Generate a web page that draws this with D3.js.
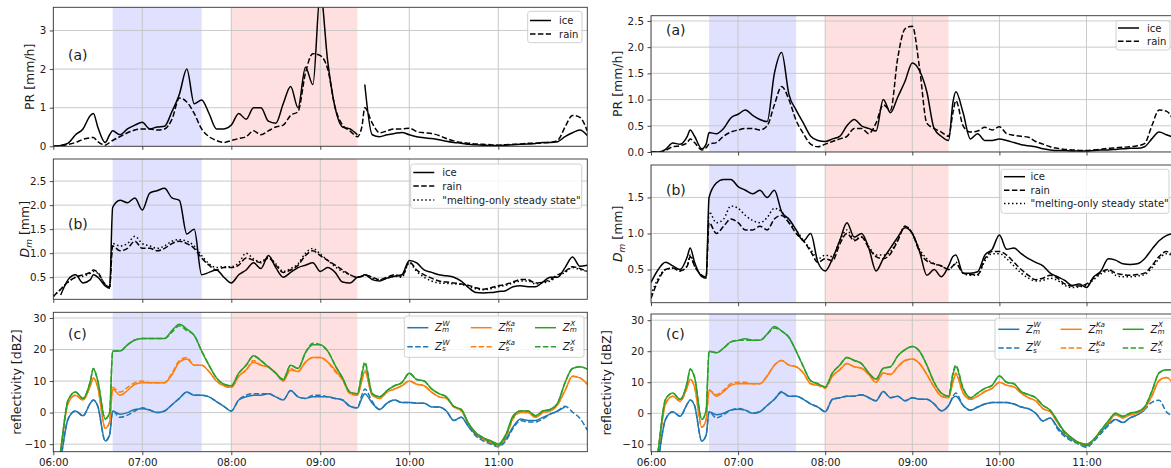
<!DOCTYPE html>
<html><head><meta charset="utf-8">
<script src="https://cdn.jsdelivr.net/npm/d3@7"></script>
<style>body{margin:0;background:#fff}svg{display:block}text{font-family:"DejaVu Sans",sans-serif;fill:#1a1a1a}</style>
</head><body><svg id="c" width="1171" height="468"></svg>
<script>
const times = ["06:00","06:05","06:10","06:15","06:20","06:25","06:27","06:30","06:35","06:38",
"06:40","06:45","06:50","06:55","07:00","07:05","07:10","07:15","07:20","07:25",
"07:30","07:35","07:40","07:45","07:50","07:55","08:00","08:05","08:10","08:15",
"08:20","08:25","08:30","08:35","08:40","08:45","08:50","08:55","09:00","09:05",
"09:10","09:15","09:20","09:25","09:28","09:30","09:35","09:40","09:45","09:50",
"09:55","10:00","10:05","10:10","10:15","10:20","10:25","10:30","10:35","10:40",
"10:45","10:50","10:55","11:00","11:05","11:10","11:15","11:20","11:25","11:30",
"11:35","11:40","11:45","11:50","11:55","12:00"];
const hourTicks = ["06:00","07:00","08:00","09:00","10:00","11:00"];
const blueSpan = ["06:40","07:40"];
const redSpan = ["08:00","09:25"];

// ---------- left figure ----------
const leftPrIce = [0,0.02,0.08,0.3,0.45,0.8,0.85,0.5,0.1,0.3,
0.4,0.3,0.45,0.55,0.62,0.45,0.5,0.52,0.9,1.35,
2.0,1.1,1.2,0.85,0.45,0.45,0.55,0.85,0.7,1.0,
1.0,0.65,0.6,1.1,1.55,1.0,2.05,1.6,4.0,2.2,
1.0,0.5,0.45,0.3,null,1.6,0.3,0.25,0.3,0.33,
0.36,0.3,0.25,0.22,0.2,0.17,0.13,0.1,0.08,0.05,
0.04,0.03,0.02,0.02,0.03,0.04,0.05,0.06,0.07,0.1,
0.1,0.12,0.25,0.35,0.42,0.28];
const leftPrRain = [0,0.02,0.05,0.1,0.18,0.22,0.23,0.12,0.03,0.1,
0.15,0.25,0.35,0.42,0.45,0.45,0.42,0.45,0.7,1.25,
1.15,0.85,0.45,0.25,0.15,0.1,0.15,0.2,0.25,0.4,
0.3,0.4,0.5,0.55,0.8,0.9,1.9,2.4,2.35,2.0,
1.0,0.55,0.4,0.25,0.5,1.0,0.6,0.35,0.4,0.45,
0.45,0.47,0.38,0.35,0.33,0.28,0.2,0.14,0.1,0.08,
0.06,0.05,0.04,0.03,0.04,0.05,0.06,0.08,0.08,0.09,
0.1,0.15,0.5,0.8,0.75,0.4];
const leftDmIce = [null,0.13,0.45,0.55,0.38,0.45,0.55,0.5,0.32,0.27,
1.95,2.1,2.05,2.15,1.9,2.25,2.3,2.35,2.15,2.1,
1.4,1.5,0.55,0.6,0.65,0.5,0.38,0.55,0.65,0.8,
0.68,0.95,0.7,0.5,0.6,0.7,0.75,0.8,0.62,0.7,
0.6,0.4,0.38,0.5,0.52,0.55,0.45,0.42,0.48,0.52,
0.55,0.85,0.8,0.65,0.6,0.55,0.53,0.5,0.42,0.28,
0.18,0.17,0.18,0.2,0.22,0.3,0.32,0.3,0.3,0.4,
0.5,0.5,0.7,0.92,0.73,0.75];
const leftDmRain = [0.1,0.25,0.4,0.5,0.55,0.6,0.65,0.6,0.35,0.3,
1.15,1.05,1.1,1.25,1.1,1.1,1.05,1.1,1.2,1.25,
1.2,1.1,0.9,0.75,0.65,0.7,0.7,0.75,0.9,0.85,
0.8,0.9,0.75,0.6,0.65,0.75,0.95,1.05,0.95,0.85,
0.75,0.65,0.55,0.5,0.52,0.55,0.5,0.45,0.5,0.55,
0.52,0.82,0.65,0.55,0.48,0.42,0.4,0.38,0.36,0.33,
0.28,0.25,0.28,0.32,0.35,0.4,0.45,0.45,0.38,0.4,
0.45,0.55,0.62,0.72,0.68,0.62];
const leftDmMelt = [0.1,0.25,0.4,0.5,0.52,0.58,0.62,0.58,0.35,0.3,
1.2,1.15,1.2,1.35,1.2,1.15,1.1,1.15,1.25,1.28,
1.25,1.15,0.95,0.78,0.7,0.72,0.72,0.8,1.0,0.88,
0.82,0.92,0.78,0.62,0.68,0.78,1.0,1.1,0.98,0.85,
0.72,0.62,0.55,0.5,0.52,0.55,0.48,0.44,0.48,0.52,
0.5,0.8,0.62,0.5,0.42,0.38,0.37,0.36,0.35,0.3,
0.26,0.24,0.26,0.3,0.33,0.38,0.42,0.42,0.36,0.38,
0.42,0.52,0.6,0.7,0.66,0.62];
const leftWm = [-30,-15,-2,0.5,-1,3,4,2,-9,-7,
0.5,-0.5,0,1,1.2,0.8,0,0.5,2.5,4.5,
6.5,5.5,5.5,5,3.5,2,0.5,4,5,5.5,
5.5,6,5,4,7,5,4.5,5,5,5,
4.5,4,2,1.5,4.5,6,3,1,3,4,
3.2,3.2,3,3,1.8,1.8,0.5,-2.5,-1.5,-4.5,
-7,-8.5,-9.5,-10.3,-8.5,-4.5,-2,-2.5,-2.5,-1.5,
-0.5,0.5,1.8,null,null,null];
const leftWs = [-30,-15,-2,0.5,-1,3,4,2,-9,-7,
0.5,-1.5,-0.8,0.5,1.5,0.8,0,0.5,2.5,4.5,
6.5,5.5,5.5,5,3.5,2,0.5,4,5.5,6,
6,6,5,4,7,5,4.5,5.5,5.5,5,
4.5,4,2,1.5,5.5,7.5,3.5,1,3,4,
3.2,3.2,3,3,1.8,1.8,0.5,-2.5,-1.5,-4.5,
-7.5,-9,-10,-10.8,-9,-5,-2.5,-3,-3,-2,
-0.5,0.5,2,0.2,-1.8,-5.6];
const leftKam = [-30,-12,3,5.5,4,8.5,11,8,-5,-3,
7.5,5.5,7,9,9.5,9.5,9.5,9.5,12,16,
17,15,15,13,10,8.5,8,11.5,13.5,16,
15,14.5,12.5,10,13.5,13,16,17.5,17.5,16,
13.5,10.5,6,5.5,10,13,5.5,4.5,6.5,7.5,
8.5,10,9,8.5,6.5,5,4.5,1.8,0.8,-3.5,
-6.5,-8,-9,-10,-7.5,-1.5,0,0,-1.5,0,
0.5,2.5,7,11.5,11,9];
const leftKas = [-30,-12,3,5.5,4,8.5,11,8,-5,-3,
8,6.5,8,9.5,10,9.5,9.5,9.5,12.5,16.5,
17.5,15,15,13,10,8.5,8,11.5,13.5,16.5,
15,14.5,12.5,10,14,13,16,17.5,17.5,16,
13,10.5,6,5.5,10.5,13.5,5.5,4.5,6.5,7.5,
8.5,10,9,8.5,6.5,5,4.5,1.8,0.5,-3.5,
-6.5,-8.5,-9.5,-10.5,-8,-2,0,0,-1.5,0,
0.5,2.5,7,11.5,11,9];
const leftXm = [-30,-12,4,6.5,4.5,10,14,10,-2,0,
19.5,19.5,21.5,23,23.5,23.5,23.5,23.5,26,28,
26.5,24.5,19.5,15,11,9,8.5,12.5,15,18,
16.5,14.5,12.5,10.5,15,14,19,21.5,21.5,19.5,
15,11,6.5,6,12,15.5,6,5,7,8.5,
9.5,12.5,10.5,10,7.5,6,5,2,1,-3.5,
-6.5,-8,-9,-10,-7,-1,0.5,0.5,-1,0.5,
1,3,9.5,14,14.5,13.8];
const leftXs = [-30,-12,4,6.5,4.5,10,14,10,-2,0,
19.5,19.5,21.5,23,23.5,23.5,23.5,23.5,25.5,27.5,
26,24.5,19.5,15,11,9,8.5,12.5,15,18,
16.5,14.5,12.5,10.5,15,14,19,22,21.5,19.5,
15,11,6.5,6,12.5,16,6,5,7,8.5,
9.5,12.5,10.5,10,7.5,6,5,2,1,-3.5,
-6.5,-8,-9.5,-10.5,-7.5,-1.5,0.5,0.5,-1,0.5,
1,3,9.5,14,14.5,13.8];

// ---------- right figure ----------
const rightPrIce = [0,0,0.05,0.17,0.15,0.3,0.42,0.3,0.06,0.15,
0.37,0.35,0.45,0.65,0.72,0.8,0.7,0.62,0.58,1.5,
1.9,1.1,0.8,0.55,0.3,0.22,0.2,0.25,0.3,0.5,
0.62,0.5,0.45,0.4,1.0,0.75,1.05,1.35,1.7,1.55,
1.15,0.45,0.3,0.22,0.95,1.15,0.75,0.25,0.35,0.22,
0.22,0.25,0.22,0.18,0.14,0.12,0.1,0.06,0.04,0.03,
0.03,0.02,0.02,0.02,0.03,0.04,0.04,0.05,0.06,0.07,
0.07,0.1,0.25,0.38,0.33,0.28];
const rightPrRain = [0,0,0.03,0.1,0.12,0.18,0.25,0.18,0.04,0.08,
0.15,0.18,0.3,0.38,0.42,0.45,0.45,0.42,0.5,0.9,
1.25,1.0,0.6,0.35,0.15,0.1,0.15,0.2,0.25,0.3,
0.45,0.45,0.35,0.55,0.9,0.8,1.8,2.35,2.4,1.6,
0.55,0.45,0.38,0.3,0.75,0.98,0.5,0.38,0.4,0.47,
0.42,0.48,0.35,0.32,0.3,0.28,0.2,0.15,0.1,0.07,
0.05,0.04,0.03,0.03,0.04,0.05,0.07,0.08,0.09,0.1,
0.12,0.16,0.5,0.8,0.78,0.6];
const rightDmIce = [0.32,0.5,0.6,0.55,0.5,0.68,0.8,0.6,0.4,0.38,
1.5,1.7,1.75,1.75,1.65,1.6,1.55,1.6,1.5,1.6,
1.3,1.2,1.05,0.9,1.0,0.6,0.48,0.65,0.9,1.15,
0.95,1.0,0.8,0.48,0.65,0.8,0.95,1.08,1.0,0.75,
0.42,0.5,0.4,0.55,0.68,0.7,0.45,0.45,0.47,0.7,
0.78,0.98,0.78,0.8,0.72,0.65,0.6,0.55,0.45,0.4,
0.35,0.28,0.3,0.25,0.4,0.48,0.65,0.63,0.58,0.57,
0.58,0.65,0.78,0.9,0.97,1.0];
const rightDmRain = [0.1,0.35,0.5,0.52,0.48,0.55,0.68,0.55,0.42,0.4,
1.15,1.0,1.1,1.2,1.15,1.05,1.05,1.1,1.05,1.2,
1.25,1.15,1.0,0.9,0.75,0.6,0.65,0.62,0.85,1.0,
0.9,0.95,0.8,0.68,0.65,0.72,0.9,1.1,1.0,0.75,
0.62,0.58,0.55,0.5,0.55,0.58,0.45,0.43,0.43,0.65,
0.75,0.75,0.7,0.6,0.5,0.42,0.36,0.38,0.42,0.38,
0.3,0.27,0.27,0.3,0.38,0.46,0.5,0.45,0.43,0.42,
0.43,0.45,0.55,0.68,0.75,0.7];
const rightDmMelt = [0.15,0.38,0.5,0.52,0.48,0.55,0.7,0.55,0.42,0.4,
1.3,1.15,1.2,1.38,1.35,1.25,1.18,1.15,1.22,1.35,
1.3,1.15,1.05,0.9,0.78,0.65,0.7,0.68,0.9,1.05,
0.92,0.95,0.82,0.7,0.7,0.75,0.92,1.1,1.0,0.78,
0.65,0.58,0.55,0.5,0.55,0.6,0.45,0.42,0.42,0.62,
0.72,0.72,0.65,0.55,0.45,0.38,0.34,0.35,0.38,0.35,
0.28,0.25,0.26,0.28,0.36,0.44,0.48,0.42,0.4,0.4,
0.41,0.43,0.52,0.65,0.72,0.68];
const rightWm = [-30,-15,-2,0.5,-1,3,4.3,2.5,-9,-7,
0.5,-0.5,0,1,1.3,1,0,0.5,2.5,4.5,
6.8,5.5,5.5,4.5,3,2,0.5,4.5,5,5.5,
5.5,6,5,4,7,5,5.5,4,5,4.5,
4.5,3,0.8,2.5,5,5.5,2.5,1,2,3,
3.5,3.5,3.5,3,2,1.5,0,-2.5,-1.5,-4.5,
-7,-8.5,-9.5,-10.5,-8.5,-6,-3.5,-2,-3,-1.5,
-0.5,1,null,null,null,null];
const rightWs = [-30,-15,-2,0.5,-1,3,4.3,2.5,-9,-7,
0.5,-1.5,-0.5,1,1.5,1,0,0.5,2.5,4.5,
7,5.5,5.5,4.5,3,2,0.5,4.5,5,5.5,
5.5,6,5,4,7,5,5.5,4,5,4.5,
4.5,3,0.8,2.5,5.5,6.5,2.5,1,2,3,
3.5,3.5,3.5,3,2,1.5,0,-2.5,-1.5,-5,
-7.5,-9,-10,-11,-9,-6.5,-4,-2,-3,-1.5,
-0.5,1.2,3.5,4.2,0.5,-1];
const rightKam = [-30,-12,3,5.5,3.8,8.5,11,8.5,-4.5,-2,
7.5,5.5,7,9,9.5,9.5,9.5,9.5,12,15.5,
17,15.5,15,13,9.5,9,8.5,12,14,16,
15,14.5,12.5,10,13,12.5,15,17,17.5,16,
12.5,8.5,5.5,5,10,12.5,6.5,4.5,5.5,7,
8,10,9,8.5,6.5,5,4,1.5,0.5,-3,
-6,-8,-9.5,-10,-8.5,-5.5,-3,-0.5,-1.5,-0.5,
0,1.5,5.5,10.5,11.5,9.5];
const rightKas = [-30,-12,3,5.5,3.8,8.5,11,8.5,-4.5,-2,
7.5,6,7.5,9.5,10,10,9.5,9.5,12,15.5,
17,15.5,15,13,9.5,9,8,12,14,16,
15,14.5,12.5,10,13,12.5,15,17,17.5,16,
12.5,8.5,5.5,5,10.5,13,6.5,4.5,5.5,7,
8,10,9,8.5,6.5,5,4,1.5,0.5,-3,
-6.5,-8.5,-10,-10.5,-8.5,-5.5,-3,-0.5,-1.5,-0.5,
0,1.5,5.5,10.5,11.5,9.5];
const rightXm = [-30,-12,4.5,6.5,4.5,10,14.3,11.6,-2,1,
20,19.5,21,23,23.5,24,23.5,23.5,25.5,28,
26.5,24.5,20,15,10.5,9.5,8.5,13,15.5,18,
17,16,13,11,14.5,15,18.5,20.5,21.5,20,
15.5,10,6.5,5.5,12.5,15,8,5,6.5,8,
9,12,10,9.5,7,6,5,2.5,1,-2.5,
-6,-8,-9.5,-10,-8.5,-5.5,-2.5,0,-1,0,
0.5,2,7,13,14,14];
const rightXs = [-30,-12,4.5,6.5,4.5,10,14.3,11.6,-2,1,
20,19.5,21,23,23.5,23.5,23.5,23.5,25.5,27.5,
26.5,24.5,20,15,10.5,9.5,8.5,13,15.5,18,
17,16,13,11,14.5,15,18.5,20.5,21.5,20,
15.5,10,6.5,5.5,13,15.5,8,5,6.5,8,
9,12,10,9.5,7,6,5,2.5,1,-2.5,
-6.5,-8.5,-10,-10.5,-8.5,-5.5,-2.5,0,-1,0,
0.5,2,7,13,14,14];

// ---------- drawing ----------
const parse = d3.timeParse("%H:%M");
const T = times.map(parse);
const svg = d3.select("#c");
const defs = svg.append("defs");
let clipN = 0;
const BLACK = "#000", C_W = "#1f77b4", C_KA = "#ff7f0e", C_X = "#2ca02c";
const DASH = "5.5,2.4", DOT = "1.5,2.5";
const LEG_FS = "10.05px";

function drawPanel(cfg) {
  const {x0, x1, y0, y1} = cfg.box;
  const x = d3.scaleTime().domain([parse("06:00"), parse("12:00")]).range([x0, x1]);
  const y = d3.scaleLinear().domain(cfg.yDomain).range([y1, y0]);
  const g = svg.append("g");
  const id = "clip" + (clipN++);
  defs.append("clipPath").attr("id", id).append("rect")
    .attr("x", x0).attr("y", y0).attr("width", x1 - x0).attr("height", y1 - y0);
  const inner = g.append("g").attr("clip-path", `url(#${id})`);
  [[blueSpan, "#e0e0ff"], [redSpan, "#ffe0e0"]].forEach(([s, c]) => {
    inner.append("rect").attr("x", x(parse(s[0]))).attr("width", x(parse(s[1])) - x(parse(s[0])))
      .attr("y", y0).attr("height", y1 - y0).attr("fill", c);
  });
  const xt = hourTicks.map(parse);
  inner.selectAll(null).data(xt).join("line")
    .attr("x1", d => x(d)).attr("x2", d => x(d)).attr("y1", y0).attr("y2", y1)
    .attr("stroke", "#c4c4c4").attr("stroke-width", 0.9);
  inner.selectAll(null).data(cfg.yTicks).join("line")
    .attr("x1", x0).attr("x2", x1).attr("y1", d => y(d)).attr("y2", d => y(d))
    .attr("stroke", "#c4c4c4").attr("stroke-width", 0.9);
  const line = d3.line().defined(d => d[1] != null).curve(d3.curveMonotoneX)
    .x(d => x(d[0])).y(d => y(d[1]));
  cfg.series.forEach(s => {
    inner.append("path").datum(T.map((t, i) => [t, s.values[i]]))
      .attr("d", line).attr("fill", "none").attr("stroke", s.color)
      .attr("stroke-width", 1.5).attr("stroke-linejoin", "round")
      .attr("stroke-dasharray", s.dash || null);
  });
  g.append("rect").attr("x", x0).attr("y", y0).attr("width", x1 - x0).attr("height", y1 - y0)
    .attr("fill", "none").attr("stroke", "#333").attr("stroke-width", 0.9);
  const ax = d3.axisBottom(x).tickValues(xt).tickSize(3.5).tickPadding(3.5)
    .tickFormat(cfg.xLabels ? d3.timeFormat("%H:%M") : () => "");
  const gx = g.append("g").attr("transform", `translate(0,${y1})`).call(ax);
  const ay = d3.axisLeft(y).tickValues(cfg.yTicks).tickSize(3.5).tickPadding(3.5).tickFormat(cfg.yFmt);
  const gy = g.append("g").attr("transform", `translate(${x0},0)`).call(ay);
  [gx, gy].forEach(a => {
    a.select(".domain").remove();
    a.selectAll("line").attr("stroke", "#333").attr("stroke-width", 0.9);
    a.selectAll("text").attr("font-size", "10.3px").attr("font-family", "DejaVu Sans").attr("fill", "#1a1a1a");
  });
  const lab = g.append("text").attr("transform", `translate(${cfg.labelX},${(y0 + y1) / 2}) rotate(-90)`)
    .attr("text-anchor", "middle").attr("dy", "0.35em").attr("font-size", "12.5px");
  cfg.ylabel(lab);
  g.append("text").attr("x", cfg.letterPos[0]).attr("y", cfg.letterPos[1])
    .attr("font-size", "14px").text(cfg.letter);
  return {x, y, g};
}

function legendBox(box) {
  svg.append("rect").attr("x", box[0]).attr("y", box[1]).attr("width", box[2] - box[0]).attr("height", box[3] - box[1])
    .attr("rx", 2.5).attr("fill", "#fff").attr("fill-opacity", 0.8).attr("stroke", "#cccccc").attr("stroke-width", 0.9);
}
function legendSimple(box, lx, tx, rows) {
  legendBox(box);
  rows.forEach(r => {
    svg.append("line").attr("x1", lx).attr("x2", lx + 21).attr("y1", r.y).attr("y2", r.y)
      .attr("stroke", "#000").attr("stroke-width", 1.5).attr("stroke-dasharray", r.dash || null);
    svg.append("text").attr("x", tx).attr("y", r.y).attr("dy", "0.35em").attr("font-size", LEG_FS).text(r.label);
  });
}
function legendZ(box, cols, rowsY) {
  legendBox(box);
  const bands = [["W", C_W], ["Ka", C_KA], ["X", C_X]];
  bands.forEach((b, ci) => {
    ["m", "s"].forEach((sub, ri) => {
      const yy = rowsY[ri], lx = cols[ci];
      svg.append("line").attr("x1", lx).attr("x2", lx + 21).attr("y1", yy).attr("y2", yy)
        .attr("stroke", b[1]).attr("stroke-width", 1.5).attr("stroke-dasharray", ri ? DASH : null);
      const tx = lx + 27.7;
      svg.append("text").attr("x", tx).attr("y", yy + 3.4).attr("font-size", "10.3px").attr("font-style", "italic").text("Z");
      svg.append("text").attr("x", tx + 7.6).attr("y", yy - 2.2).attr("font-size", "7.3px").attr("font-style", "italic").text(b[0]);
      svg.append("text").attr("x", tx + 7.0).attr("y", yy + 4.6).attr("font-size", "7.3px").attr("font-style", "italic").text(sub);
    });
  });
}
const prLabel = t => t.text("PR [mm/h]");
const dmLabel = t => {
  t.append("tspan").attr("font-style", "italic").text("D");
  t.append("tspan").attr("font-style", "italic").attr("font-size", "9px").attr("dy", "3").text("m");
  t.append("tspan").attr("dy", "-3").text(" [mm]");
};
const zLabel = t => t.text("reflectivity [dBZ]");
const zSeries = (wm, ws, kam, kas, xm, xs) => [
  {values: wm, color: C_W}, {values: ws, color: C_W, dash: DASH},
  {values: kam, color: C_KA}, {values: kas, color: C_KA, dash: DASH},
  {values: xm, color: C_X}, {values: xs, color: C_X, dash: DASH}];

// Left figure
const LX0 = 53.3, LX1 = 587.3;
drawPanel({box: {x0: LX0, x1: LX1, y0: 7.3, y1: 146.3}, yDomain: [0, 3.6], yTicks: [0, 1, 2, 3], yFmt: d3.format("d"),
  series: [{values: leftPrIce, color: BLACK}, {values: leftPrRain, color: BLACK, dash: DASH}],
  labelX: 30, ylabel: prLabel, letter: "(a)", letterPos: [68, 60]});
drawPanel({box: {x0: LX0, x1: LX1, y0: 159, y1: 299.3}, yDomain: [0.04, 2.96], yTicks: [0.5, 1, 1.5, 2, 2.5], yFmt: d3.format(".1f"),
  series: [{values: leftDmIce, color: BLACK}, {values: leftDmRain, color: BLACK, dash: DASH}, {values: leftDmMelt, color: BLACK, dash: DOT}],
  labelX: 25, ylabel: dmLabel, letter: "(b)", letterPos: [68, 228.5]});
drawPanel({box: {x0: LX0, x1: LX1, y0: 312.3, y1: 451.7}, yDomain: [-12.4, 31.8], yTicks: [-10, 0, 10, 20, 30], yFmt: d3.format("d"),
  series: zSeries(leftWm, leftWs, leftKam, leftKas, leftXm, leftXs), xLabels: true,
  labelX: 17, ylabel: zLabel, letter: "(c)", letterPos: [68, 338.5]});
legendSimple([527.7, 11.3, 582, 42.7], 530, 559, [{y: 20.5, label: "ice"}, {y: 34, label: "rain", dash: DASH}]);
legendSimple([410.7, 164, 581.7, 208.3], 413.3, 442.3, [{y: 172.5, label: "ice"}, {y: 186, label: "rain", dash: DASH}, {y: 200, label: "\"melting-only steady state\"", dash: DOT}]);
legendZ([404.3, 316, 584, 357.3], [407.3, 470.7, 535], [327.7, 346.7]);

// Right figure
const RX0 = 651, RX1 = 1173.6;
drawPanel({box: {x0: RX0, x1: RX1, y0: 15.7, y1: 152}, yDomain: [0, 2.6], yTicks: [0, 0.5, 1, 1.5, 2, 2.5], yFmt: d3.format(".1f"),
  series: [{values: rightPrIce, color: BLACK}, {values: rightPrRain, color: BLACK, dash: DASH}],
  labelX: 618, ylabel: prLabel, letter: "(a)", letterPos: [666, 35]});
drawPanel({box: {x0: RX0, x1: RX1, y0: 165, y1: 302.7}, yDomain: [0.04, 1.95], yTicks: [0.5, 1, 1.5], yFmt: d3.format(".1f"),
  series: [{values: rightDmIce, color: BLACK}, {values: rightDmRain, color: BLACK, dash: DASH}, {values: rightDmMelt, color: BLACK, dash: DOT}],
  labelX: 618, ylabel: dmLabel, letter: "(b)", letterPos: [666, 194.5]});
drawPanel({box: {x0: RX0, x1: RX1, y0: 314, y1: 451.7}, yDomain: [-12.4, 32], yTicks: [-10, 0, 10, 20, 30], yFmt: d3.format("d"),
  series: zSeries(rightWm, rightWs, rightKam, rightKas, rightXm, rightXs), xLabels: true,
  labelX: 607, ylabel: zLabel, letter: "(c)", letterPos: [666, 339]});
legendSimple([1116, 20.7, 1170, 50], 1118, 1147, [{y: 28, label: "ice"}, {y: 41.3, label: "rain", dash: DASH}]);
legendSimple([1001, 169.3, 1169, 213.3], 1004, 1030.5, [{y: 176.7, label: "ice"}, {y: 190.3, label: "rain", dash: DASH}, {y: 203.5, label: "\"melting-only steady state\"", dash: DOT}]);
legendZ([995, 318.3, 1175, 359.3], [998.3, 1060.7, 1122.7], [329.3, 348]);
</script></body></html>
